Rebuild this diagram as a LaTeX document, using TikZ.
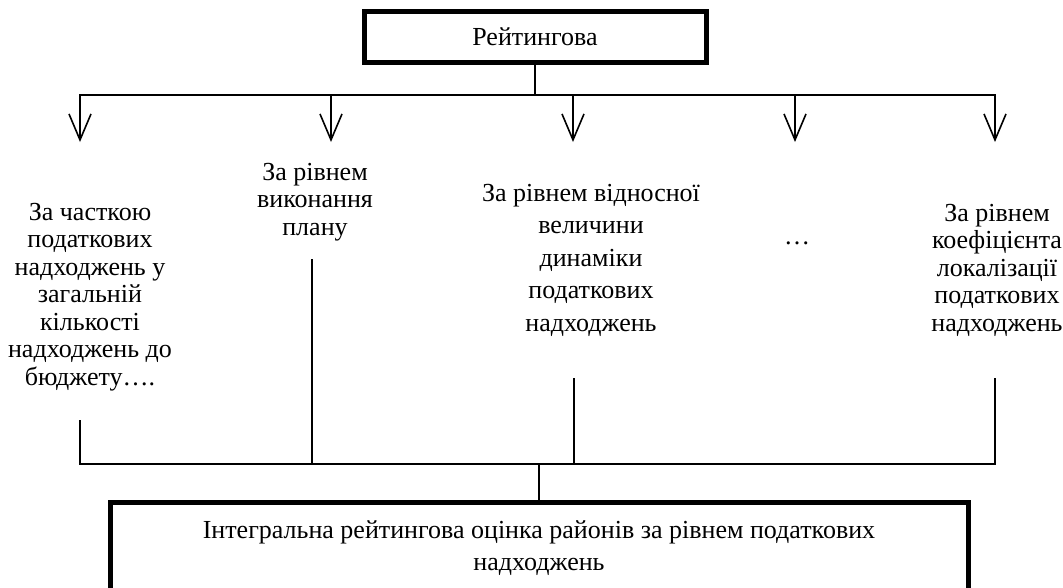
\documentclass[tikz,border=0pt]{standalone}
\usepackage{fontspec}
\setmainfont{Liberation Serif}
\usetikzlibrary{arrows.meta}

\begin{document}
\begin{tikzpicture}[x=1pt, y=-1pt, line width=1.6pt,
    frame/.style={draw=black, line width=5pt, inner sep=0pt},
    crit/.style={align=center, font=\fontsize{26}{27.5}\selectfont},
    arr/.style={-{Straight Barb[length=26pt, width=22pt]}}]
    \useasboundingbox (0, 0) rectangle (1063, 587);

    \draw (535, 37) node
          [frame, minimum width=342pt, minimum height=51pt] (rating)
          {\fontsize{26}{28}\selectfont Рейтингова};

    \draw (90, 297) node [crit] (share)
          {За часткою\\ податкових\\ надходжень у\\ загальній\\ кількості\\ надходжень до\\ бюджету….};
    \draw (315, 202) node [crit] (plan)
          {За рівнем\\ виконання\\ плану};
    \draw (591, 260) node [crit, font=\fontsize{26}{32.5}\selectfont] (dynamics)
          {За рівнем відносної\\ величини\\ динаміки\\ податкових\\ надходжень};
    \draw (797, 243) node [crit] (more) {…};
    \draw (997, 270) node [crit] (local)
          {За рівнем\\ коефіцієнта\\ локалізації\\ податкових\\ надходжень};

    \draw (539, 548) node
          [frame, minimum width=858pt, minimum height=91pt,
           align=center, font=\fontsize{26}{32}\selectfont] (total)
          {Інтегральна рейтингова оцінка районів за рівнем податкових\\ надходжень};

    % top bus
    \foreach \i/\x in {1/80, 2/331, 3/573, 4/795, 5/995} {
        \coordinate (up\i) at (\x, 95);
        \coordinate (tip\i) at (\x, 142);
    }
    \draw (rating.south) -- (rating.south |- up1);
    \draw [line cap=rect] (up1) -- (up5);
    \foreach \i in {1, ..., 5}
        \draw [arr] (up\i) -- (tip\i);

    % bottom bus
    \foreach \i/\x/\y in {1/80/420, 2/312/259, 3/574/378, 5/995/378} {
        \coordinate (dn\i) at (\x, \y);
        \coordinate (lo\i) at (\x, 464);
    }
    \draw (dn1) -- (lo1) -- (lo5) -- (dn5);
    \draw (dn2) -- (lo2);
    \draw (dn3) -- (lo3);
    \draw (total.north |- lo1) -- (total.north);
\end{tikzpicture}
\end{document}
